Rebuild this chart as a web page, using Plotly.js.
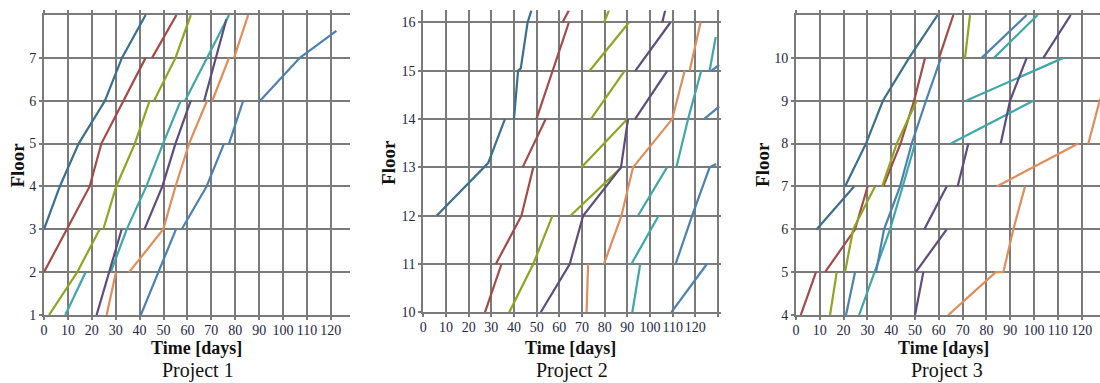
<!DOCTYPE html>
<html>
<head>
<meta charset="utf-8">
<script src="https://cdn.plot.ly/plotly-3.0.1.min.js"></script>
<style>html,body{margin:0;padding:0;background:#fff;}#chart{width:1100px;height:383px;}</style>
</head>
<body>
<div id="chart"></div>
<script>
// ---------- tick labels ----------
const dayTicks = [0,10,20,30,40,50,60,70,80,90,100,110,120];
const p1FloorTicks = [1,2,3,4,5,6,7];
const p2FloorTicks = [10,11,12,13,14,15,16];
const p3FloorTicks = [4,5,6,7,8,9,10];
const panelTitles = ["Project 1","Project 2","Project 3"];
const xTitle = "Time [days]";
const yTitle = "Floor";

// ---------- crews (null separates segments) ----------
// Project 1
const p1_A_x = [0, 6.6, 14.5, 25.5, 32.6, 42.5];
const p1_A_y = [3, 4, 5, 6, 7, 8];
const p1_B_x = [0, 19.1, 24, 42.5, null, 45.2, 55.4];
const p1_B_y = [2, 4, 5, 7, null, 7, 8];
const p1_C_x = [2.1, 13.9, 23.3, null, 24.8, 30.2, 38, 44.2, null, 46, 55, 61.4];
const p1_C_y = [1, 2, 3, null, 3, 4, 5, 6, null, 6, 7, 8];
const p1_D_x = [8.9, 17.4, null, 27.9, 34.6, 42.8, 49.8, 57.2, null, 59, 77.4];
const p1_D_y = [1, 2, null, 2, 3, 4, 5, 6, null, 6, 8];
const p1_E_x = [22, 27.2, 32.5, null, 42, 49.5, 55, 61.4, null, 67, 76.3];
const p1_E_y = [1, 2, 3, null, 3, 4, 5, 6, null, 6, 7.9];
const p1_F_x = [26.2, 30.1, null, 35.6, 49.9, 55, 60.7, 68.2, null, 70.4, 77.4, null, 79.5, 85.4];
const p1_F_y = [1, 2, null, 2, 3, 4, 5, 6, null, 6, 7, null, 7, 8];
const p1_G_x = [40.5, 55.2, null, 57.6, 68, 75.3, null, 77.4, 83.3, null, 90.4, 107, 122.3];
const p1_G_y = [1, 3, null, 3, 4, 5, null, 5, 6, null, 6, 7, 7.63];

// Project 2
const p2_A_x = [5.9, 26.4, 28.6, 36, null, 40, 41.8, 43, 46, 47.7];
const p2_A_y = [12, 13, 13.09, 14, null, 14, 15, 15.05, 16, 16.25];
const p2_B_x = [27.2, 34.5, null, 32, 43.3, 48.5, null, 43.8, 54, null, 49.9, 64.2, null, 61.4, 64.2];
const p2_B_y = [10, 11, null, 11, 12, 13, null, 13, 14, null, 14, 16, null, 16, 16.25];
const p2_C_x = [37.9, 48.5, 57, null, 64.9, 87.4, null, 69.7, 90, null, 73.9, 88.8, null, 73.4, 90.7, null, 79.7, 81.9];
const p2_C_y = [10, 11, 12, null, 12, 13, null, 13, 14, null, 14, 15, null, 15, 16, null, 16, 16.25];
const p2_D_x = [92.2, 95.7, null, 91.8, 103.8, null, 94.7, 107.5, null, 111.6, 116.8, 122.6, null, 126.3, 129];
const p2_D_y = [10, 11, null, 11, 12, null, 12, 13, null, 13, 14, 15, null, 15, 15.7];
const p2_E_x = [51.8, 64.6, 70.5, 87.2, 90.3, null, 93.4, 107.6, null, 93.5, 109, null, 105.4, 106.7];
const p2_E_y = [10, 11, 12, 13, 14, null, 14, 15, null, 15, 16, null, 16, 16.25];
const p2_F_x = [72, 72.7, null, 79.7, 87.4, 92.5, 109.8, 115.3, null, 117.5, 122.3];
const p2_F_y = [10, 11, null, 11, 12, 13, 14, 15, null, 15, 16];
const p2_G_x = [109.4, 125.1, null, 111.3, 118.6, 126.3, 129.2, null, 123.8, 130.5, null, 127, 130.5];
const p2_G_y = [10, 11, null, 11, 12, 13, 13.07, null, 14, 14.26, null, 15, 15.12];

// Project 3
const p3_A_x = [8.7, 24.4, null, 20.6, 29.4, 36.5, 47.5, 59.5];
const p3_A_y = [6, 7, null, 7, 8, 9, 10, 11];
const p3_B_x = [2, 8.4, null, 12.2, 24.8, 30.1, null, 36.7, 43.9, 49.6, 54.2, null, 60.1, 66.1];
const p3_B_y = [4, 5, null, 5, 6, 7, null, 7, 8, 9, 10, null, 10, 11];
const p3_C_x = [14.3, 17.1, null, 20.6, 24, 33.2, null, 36.2, 42.3, 50.7, null, 71, 73.1];
const p3_C_y = [4, 5, null, 5, 6, 7, null, 7, 8, 9, null, 10, 11];
const p3_D_x = [26.5, 39.5, 44.8, 50, null, 65.1, 99.7, null, 71.4, 112.3, null, 83.2, 101.5];
const p3_D_y = [4, 6, 7, 8, null, 8, 9, null, 9, 10, null, 10, 11];
const p3_E_x = [50, 53.5, null, 50.3, 63.3, null, 53.9, 63.3, null, 67.9, 72.4, null, 86, 89.9, 96.9, null, 103.9, 115.4];
const p3_E_y = [4, 5, null, 5, 6, null, 6, 7, null, 7, 8, null, 8, 9, 10, null, 10, 11];
const p3_F_x = [64, 83.9, 87.1, 91.3, 96.2, null, 84.3, 118.6, null, 122.8, 127.8];
const p3_F_y = [4, 5, 5, 6, 7, null, 7, 8, null, 8, 9.05];
const p3_G_x = [21, 24.8, null, 33.6, 37, 43.7, 48.6, 54.6, 60.9, null, 78, 96.9];
const p3_G_y = [4, 5, null, 5, 6, 7, 8, 9, 10, null, 10, 11];

// ---------- styles ----------
const crewColors = {A:'#3b6f8e', B:'#a34a4a', C:'#8da622', D:'#3fa7aa', E:'#5e4c7e', F:'#e08d5c', G:'#4d81b0'};
const gridCol = '#7a7a7a';
const tickCol = '#1e2545';
const serif = 'Liberation Serif, Times New Roman, serif';

const panels = [
  {xa:'x',  ya:'y',  data:{A:[p1_A_x,p1_A_y],B:[p1_B_x,p1_B_y],C:[p1_C_x,p1_C_y],D:[p1_D_x,p1_D_y],E:[p1_E_x,p1_E_y],F:[p1_F_x,p1_F_y],G:[p1_G_x,p1_G_y]}},
  {xa:'x2', ya:'y2', data:{A:[p2_A_x,p2_A_y],B:[p2_B_x,p2_B_y],C:[p2_C_x,p2_C_y],D:[p2_D_x,p2_D_y],E:[p2_E_x,p2_E_y],F:[p2_F_x,p2_F_y],G:[p2_G_x,p2_G_y]}},
  {xa:'x3', ya:'y3', data:{A:[p3_A_x,p3_A_y],B:[p3_B_x,p3_B_y],C:[p3_C_x,p3_C_y],D:[p3_D_x,p3_D_y],E:[p3_E_x,p3_E_y],F:[p3_F_x,p3_F_y],G:[p3_G_x,p3_G_y]}}
];

const traces = [];
panels.forEach(p => {
  Object.keys(p.data).forEach(k => {
    traces.push({
      type:'scatter', mode:'lines', x:p.data[k][0], y:p.data[k][1],
      xaxis:p.xa, yaxis:p.ya, connectgaps:false, hoverinfo:'skip',
      line:{color:crewColors[k], width:2.2}, showlegend:false
    });
  });
});

function xAxis(domain, range, tickvals, ticktext, anchor, mirror){
  return {domain:domain, range:range, anchor:anchor, tickmode:'array', tickvals:tickvals, ticktext:ticktext,
    tickangle:0, showgrid:true, gridcolor:gridCol, gridwidth:2, zeroline:false,
    showline:true, linecolor:gridCol, linewidth:2, mirror:mirror,
    ticks:'outside', ticklen:3, tickwidth:2, tickcolor:gridCol, ticklabelstandoff:-2,
    tickfont:{family:serif, size:14, color:tickCol}, fixedrange:true};
}
function yAxis(domain, range, tickvals, anchor){
  return {domain:domain, range:range, anchor:anchor, tickmode:'array', tickvals:tickvals,
    showgrid:true, gridcolor:gridCol, gridwidth:2, zeroline:false,
    showline:true, linecolor:gridCol, linewidth:2, mirror:false,
    ticks:'outside', ticklen:3, tickwidth:2, tickcolor:gridCol,
    tickfont:{family:serif, size:14, color:tickCol}, fixedrange:true};
}

const p2Ticks = dayTicks.concat([130]);
const p2Text = dayTicks.map(String).concat(['']);

const annPos = [
  {fx:0.0159, fy:0.569, tx:0.1782, px:0.180},
  {fx:0.3527, fy:0.577, tx:0.519,  px:0.520},
  {fx:0.6936, fy:0.572, tx:0.8573, px:0.861}
];
const annotations = [];
annPos.forEach((a,i) => {
  annotations.push({xref:'paper', yref:'paper', x:a.fx, y:a.fy, text:'<b>'+yTitle+'</b>', textangle:-90, showarrow:false,
    xanchor:'center', yanchor:'middle', borderpad:0, font:{family:serif, size:19, color:'#111'}});
  annotations.push({xref:'paper', yref:'paper', x:a.tx, y:0.0914, text:'<b>'+xTitle+'</b>', showarrow:false,
    xanchor:'center', yanchor:'middle', borderpad:0, font:{family:serif, size:18, color:'#111'}});
  annotations.push({xref:'paper', yref:'paper', x:a.px, y:0.0, text:panelTitles[i], showarrow:false,
    xanchor:'center', yanchor:'bottom', borderpad:0, font:{family:serif, size:20, color:'#111'}});
});

const layout = {
  width:1100, height:383, autosize:false,
  margin:{l:0, r:0, t:0, b:0, pad:0},
  paper_bgcolor:'#ffffff', plot_bgcolor:'#ffffff', showlegend:false,
  xaxis:  xAxis([0.04, 0.31818], [0, 128], dayTicks, dayTicks.map(String), 'y', 'ticks'),
  yaxis:  yAxis([0.1775, 0.9608], [1, 8], p1FloorTicks, 'x'),
  xaxis2: xAxis([0.38482, 0.65582], [0, 131.5], p2Ticks, p2Text, 'y2', false),
  yaxis2: yAxis([0.1846, 0.9728], [10, 16.25], p2FloorTicks, 'x2'),
  xaxis3: xAxis([0.72364, 1.0], [0, 127.7], dayTicks, dayTicks.map(String), 'y3', 'ticks'),
  yaxis3: yAxis([0.1775, 0.9608], [4, 11], p3FloorTicks, 'x3'),
  annotations: annotations
};

Plotly.newPlot('chart', traces, layout, {staticPlot:true, displayModeBar:false});
</script>
</body>
</html>
